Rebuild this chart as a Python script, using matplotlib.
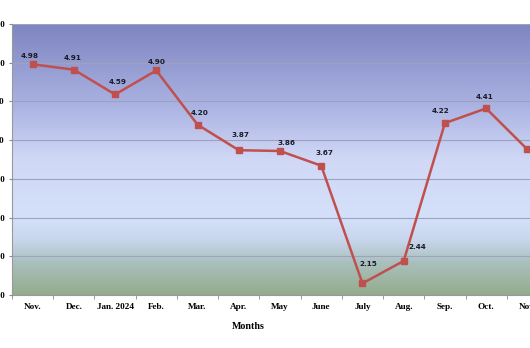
import numpy as np
import matplotlib.pyplot as plt
from matplotlib.colors import LinearSegmentedColormap

months = ['Nov.', 'Dec.', 'Jan. 2024', 'Feb.', 'Mar.', 'Apr.', 'May', 'June',
          'July', 'Aug.', 'Sep.', 'Oct.', 'Nov.']
values = [4.98, 4.91, 4.59, 4.90, 4.20, 3.87, 3.86, 3.67, 2.15, 2.44, 4.22, 4.41, 3.88]
y_ticks = [2.0, 2.5, 3.0, 3.5, 4.0, 4.5, 5.0, 5.5]

# label offsets in pixels (dx, dy) relative to each marker
offsets = [(-3, 8), (-1, 12), (3, 12), (0, 8), (2, 12), (2, 15), (7, 8), (3, 13),
           (6, 19), (14, 14), (-4, 12), (-2, 11), (12, 11)]

fig = plt.figure(figsize=(5.30, 3.48), dpi=100)
# axes runs past the right edge, as in the cropped reference
ax = fig.add_axes([12 / 530, 53 / 348, 536 / 530, 271 / 348])

stops = [(0.0, '#7e84c0'), (0.3, '#aab2e2'), (0.5, '#d0d8f6'), (0.72, '#d4e0fa'),
         (0.8, '#c8d6ec'), (0.88, '#aac0be'), (1.0, '#94ac8c')]
cmap = LinearSegmentedColormap.from_list('bg', stops)
grad = np.linspace(0, 1, 256).reshape(-1, 1)
ax.imshow(grad, cmap=cmap, aspect='auto', extent=[0, 1, 0, 1],
          transform=ax.transAxes, zorder=0)

x = np.arange(len(months))
ax.plot(x, values, color='#c0504d', linewidth=1.8, marker='s', markersize=4.5,
        zorder=3)

for i, v in enumerate(values):
    dx, dy = offsets[i]
    ax.annotate('%.2f' % v, (x[i], v), xytext=(dx * 0.72, dy * 0.72),
                textcoords='offset points', ha='center', va='center',
                fontsize=5.2, fontweight='bold', color='#1a1a2a', zorder=4)

ax.set_xlim(-0.5, len(months) - 0.5)
ax.set_ylim(2.0, 5.5)
ax.set_yticks(y_ticks)
ax.set_yticklabels(['%.2f' % t for t in y_ticks], fontsize=6.5,
                   fontfamily='Liberation Serif', fontweight='bold')
ax.set_xticks(x)
ax.set_xticklabels(months, fontsize=6.6, fontfamily='Liberation Serif',
                   fontweight='bold')
ax.set_xticks(np.arange(len(months) + 1) - 0.5, minor=True)
ax.tick_params(axis='x', which='major', length=0, pad=5.5)
ax.tick_params(axis='x', which='minor', length=3, color='#888888')
ax.tick_params(axis='y', length=2.5, color='#888888', pad=2.5)

ax.grid(axis='y', color='#9ea2bc', linewidth=0.8, zorder=1)
ax.set_axisbelow(False)
for s in ['top', 'right']:
    ax.spines[s].set_visible(False)
for s in ['left', 'bottom']:
    ax.spines[s].set_color('#999999')
    ax.spines[s].set_linewidth(0.8)

ax.set_xlabel('Months', fontsize=7.2, fontfamily='Liberation Serif',
              fontweight='bold')
ax.xaxis.set_label_coords(236 / 536, -27 / 271)

fig.savefig('out.png', dpi=100)
